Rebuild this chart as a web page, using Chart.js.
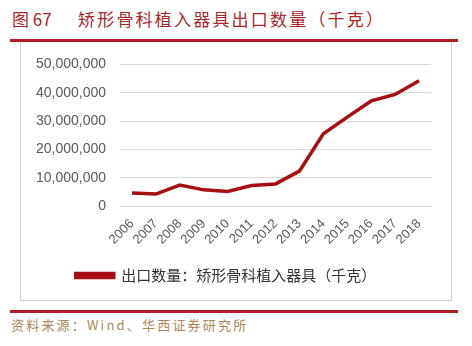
<!DOCTYPE html>
<html>
<head>
<meta charset="utf-8">
<script src="https://cdn.jsdelivr.net/npm/chart.js@4"></script>
<style>
  body { margin: 0; background: #fff; width: 472px; height: 346px; position: relative; overflow: hidden; }
  .title { position: absolute; left: 12px; top: 6px; font: 17px "Noto Sans CJK SC", sans-serif; color: #a8262b; white-space: nowrap; }
  .title .num { display: inline-block; width: 66px; }
  .title .txt { letter-spacing: 2.2px; }
  .rule { position: absolute; left: 10px; width: 448px; height: 3px; background: #b01e23; }
  .box { position: absolute; left: 20px; top: 42px; width: 430px; height: 258px; border: 1px solid #d0d0d0; border-top: none; }
  .src { position: absolute; left: 11px; top: 315px; font: 13px "Noto Sans CJK SC", sans-serif; color: #a8895a; letter-spacing: 2.2px; white-space: nowrap; }
</style>
</head>
<body>
<div class="title"><span class="num">图 67</span><span class="txt">矫形骨科植入器具出口数量（千克）</span></div>
<div class="box"><canvas id="exportChart" width="429" height="258"></canvas></div>
<div class="rule" style="top:39px"></div>
<div class="rule" style="top:310px"></div>
<div class="src">资料来源：Wind、华西证券研究所</div>
<script>
const years = ["2006", "2007", "2008", "2009", "2010", "2011", "2012", "2013", "2014", "2015", "2016", "2017", "2018"];
const exportKg = [4600000, 4200000, 7400000, 5700000, 5100000, 7200000, 7800000, 12300000, 25500000, 31400000, 37100000, 39400000, 44200000];
const seriesName = "出口数量：矫形骨科植入器具（千克）";

const ctx = document.getElementById("exportChart").getContext("2d");

new Chart(ctx, {
    type: "line",
    data: {
        labels: years,
        datasets: [{
            label: seriesName,
            data: exportKg,
            borderColor: "#a50f15",
            backgroundColor: "#a50f15",
            borderWidth: 3.5,
            pointRadius: 0,
            tension: 0,
            fill: false
        }]
    },
    options: {
        responsive: false,
        animation: false,
        layout: { padding: { top: 18, right: 19, bottom: 7, left: 0 } },
        plugins: {
            legend: {
                position: "bottom",
                labels: {
                    boxWidth: 38,
                    boxHeight: 4,
                    padding: 10,
                    color: "#333",
                    font: { family: "Noto Sans CJK SC", size: 15 }
                }
            },
            tooltip: { enabled: false }
        },
        scales: {
            x: {
                offset: true,
                grid: { display: false },
                border: { display: false },
                ticks: {
                    autoSkip: false,
                    color: "#595959",
                    font: { family: "Liberation Sans", size: 13 },
                    minRotation: 45,
                    maxRotation: 45,
                    padding: 2
                },
                afterFit: (scale) => { scale.height = 52; }
            },
            y: {
                min: 0,
                max: 50000000,
                border: { display: false },
                grid: { color: "#d9d9d9", lineWidth: 1, drawTicks: false },
                ticks: {
                    stepSize: 10000000,
                    color: "#595959",
                    padding: 14,
                    font: { family: "Liberation Sans", size: 14 },
                    callback: (v) => v.toLocaleString("en-US")
                },
                afterFit: (scale) => { scale.width = 99; }
            }
        }
    }
});
</script>
</body>
</html>
